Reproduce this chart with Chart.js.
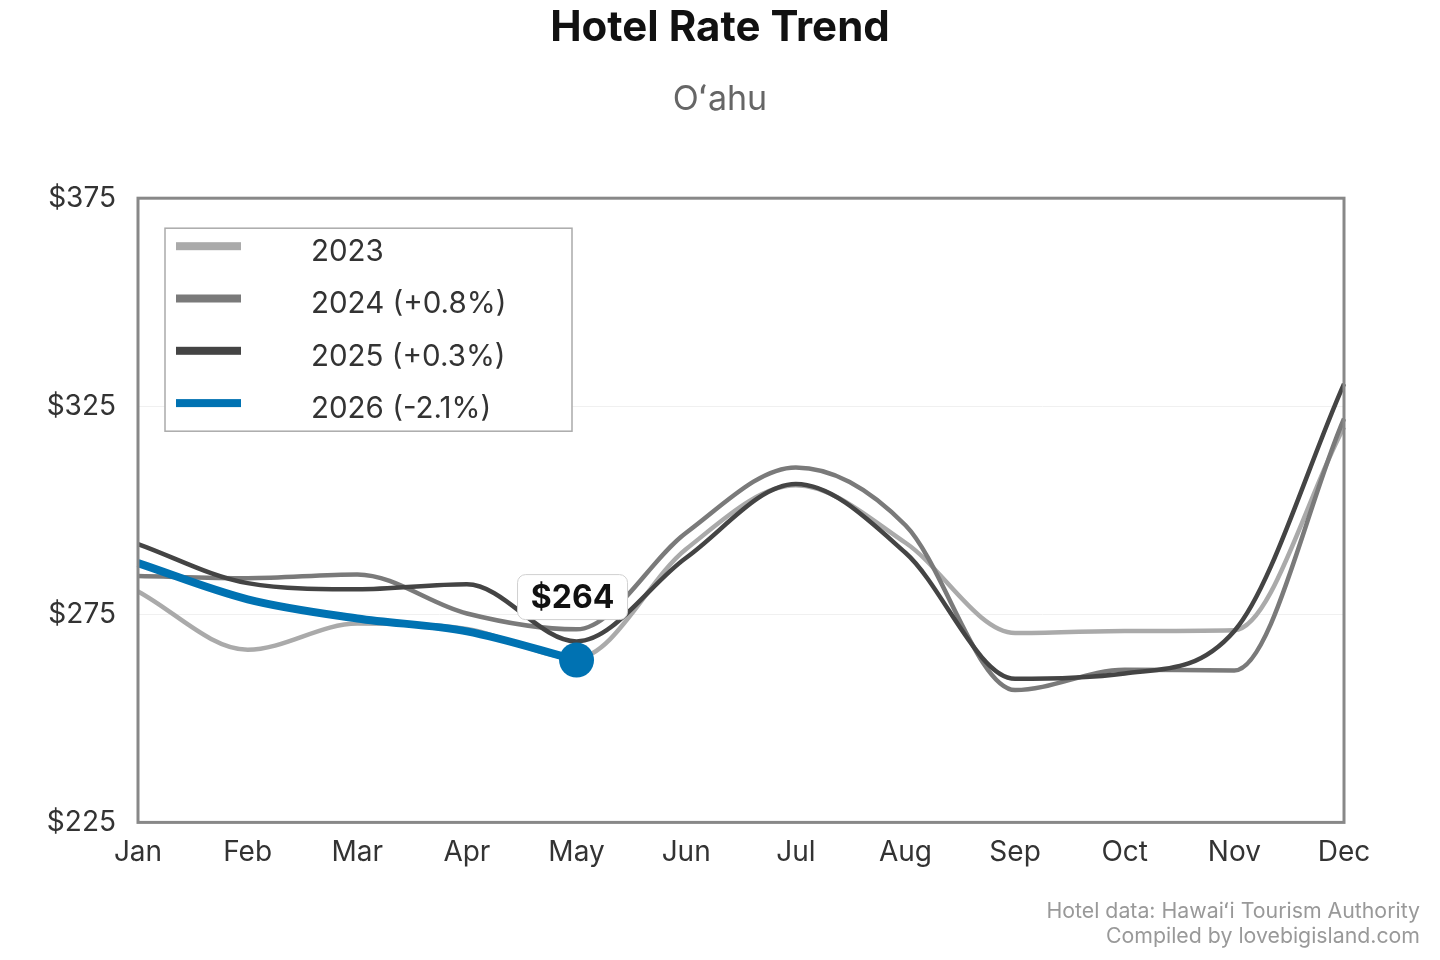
<!DOCTYPE html>
<html>
<head>
<meta charset="utf-8">
<title>Hotel Rate Trend</title>
<script src="https://cdn.jsdelivr.net/npm/chart.js@4.4.1/dist/chart.umd.min.js"></script>
<style>
  html, body { margin: 0; padding: 0; background: #fff; }
  #wrap { width: 1440px; height: 960px; position: relative; }
</style>
</head>
<body>
<div id="wrap"><canvas id="rateChart"></canvas></div>
<script>
// ===== DATA =====
const months = ['Jan', 'Feb', 'Mar', 'Apr', 'May', 'Jun', 'Jul', 'Aug', 'Sep', 'Oct', 'Nov', 'Dec'];
const yTicks = [225, 275, 325, 375];

const rates2023 = [280.5, 266.5, 272.8, 271.5, 264.5, 290.7, 306.0, 292.2, 270.5, 271.0, 271.2, 320.0];
const rates2024 = [284.2, 283.7, 284.6, 275.2, 271.4, 294.6, 310.3, 296.4, 256.8, 261.7, 261.5, 322.0];
const rates2025 = [291.9, 282.5, 281.0, 282.2, 268.5, 288.6, 306.3, 289.8, 259.5, 260.8, 271.0, 330.4];
const rates2026 = [287.3, 278.6, 274.0, 270.9, 264.0];

const seriesLabels = ['2023', '2024 (+0.8%)', '2025 (+0.3%)', '2026 (-2.1%)'];
const seriesColors = ['#aaaaaa', '#7a7a7a', '#444444', '#0072b2'];

const FONT = 'Inter, "Noto Sans", sans-serif';

// ===== PLOT FRAME =====
const frameBorder = {
    id: 'frameBorder',
    afterDatasetsDraw(chart) {
        const { ctx, chartArea: a } = chart;
        ctx.save();
        ctx.strokeStyle = '#888888';
        ctx.lineWidth = 3;
        ctx.strokeRect(a.left, a.top, a.right - a.left, a.bottom - a.top);
        ctx.restore();
    }
};

// ===== LEGEND BOX (inside plot) =====
const insideLegend = {
    id: 'insideLegend',
    afterDraw(chart) {
        const { ctx, chartArea: a } = chart;
        const x0 = a.left + 27, y0 = a.top + 30;
        const w = 407, h = 203;
        ctx.save();
        ctx.fillStyle = '#ffffff';
        ctx.fillRect(x0, y0, w, h);
        ctx.strokeStyle = '#aaaaaa';
        ctx.lineWidth = 1.5;
        ctx.strokeRect(x0, y0, w, h);
        ctx.font = `29.5px ${FONT}`;
        ctx.textBaseline = 'middle';
        seriesLabels.forEach((lbl, i) => {
            const y = y0 + 18 + i * 52.3;
            ctx.fillStyle = seriesColors[i];
            ctx.fillRect(x0 + 11, y - 4, 65, 8);
            ctx.fillStyle = '#333333';
            ctx.fillText(lbl, x0 + 146, y + 6);
        });
        ctx.restore();
    }
};

// ===== LAST VALUE LABEL =====
const lastValueLabel = {
    id: 'lastValueLabel',
    afterDraw(chart) {
        const meta = chart.getDatasetMeta(3);
        const idx = rates2026.length - 1;
        const pt = meta.data[idx];
        if (!pt) return;
        const { ctx } = chart;
        const text = '$' + Math.round(rates2026[idx]);
        const cx = pt.x - 4, cy = pt.y - 63;
        const w = 110, h = 45;
        ctx.save();
        ctx.beginPath();
        ctx.roundRect(cx - w / 2, cy - h / 2, w, h, 8);
        ctx.fillStyle = '#ffffff';
        ctx.fill();
        ctx.strokeStyle = '#d0d0d0';
        ctx.lineWidth = 1;
        ctx.stroke();
        ctx.font = `bold 32px ${FONT}`;
        ctx.fillStyle = '#111111';
        ctx.textAlign = 'center';
        ctx.textBaseline = 'middle';
        ctx.fillText(text, cx, cy + 1);
        ctx.restore();
    }
};

// ===== SOURCE NOTE =====
const sourceNote = {
    id: 'sourceNote',
    afterDraw(chart) {
        const { ctx } = chart;
        ctx.save();
        ctx.font = `21.3px ${FONT}`;
        ctx.fillStyle = '#999999';
        ctx.textAlign = 'right';
        ctx.textBaseline = 'middle';
        ctx.fillText('Hotel data: Hawaiʻi Tourism Authority', 1420, 912);
        ctx.fillText('Compiled by lovebigisland.com', 1420, 937);
        ctx.restore();
    }
};

const makeSet = (i, data, width, order) => ({
    label: seriesLabels[i],
    data: data,
    borderColor: seriesColors[i],
    backgroundColor: seriesColors[i],
    borderWidth: width,
    cubicInterpolationMode: 'monotone',
    pointRadius: 0,
    order: order
});

const set2026 = makeSet(3, rates2026, 8, 0);
set2026.pointRadius = rates2026.map((v, i) => (i === rates2026.length - 1 ? 17.5 : 0));
set2026.pointHoverRadius = set2026.pointRadius;
set2026.pointBackgroundColor = seriesColors[3];
set2026.pointBorderWidth = 0;

new Chart(document.getElementById('rateChart'), {
    type: 'line',
    data: {
        labels: months,
        datasets: [
            makeSet(0, rates2023, 4.5, 3),
            makeSet(1, rates2024, 4.5, 2),
            makeSet(2, rates2025, 4.5, 1),
            set2026
        ]
    },
    options: {
        responsive: true,
        maintainAspectRatio: false,
        animation: false,
        layout: { padding: { left: 0, right: 0, top: 0, bottom: 78 } },
        plugins: {
            legend: { display: false },
            tooltip: { enabled: false },
            title: {
                display: true,
                text: 'Hotel Rate Trend',
                color: '#111111',
                font: { family: FONT, size: 42, weight: 'bold', lineHeight: 1.2 },
                padding: { top: 3, bottom: 26 }
            },
            subtitle: {
                display: true,
                text: 'Oʻahu',
                color: '#666666',
                font: { family: FONT, size: 34, lineHeight: 1.2 },
                padding: { top: 0, bottom: 78 }
            }
        },
        scales: {
            x: {
                offset: false,
                grid: { display: false, drawTicks: false },
                border: { display: false },
                ticks: {
                    color: '#333333',
                    padding: 13,
                    maxRotation: 0,
                    font: { family: FONT, size: 28 }
                }
            },
            y: {
                min: 225,
                max: 375,
                afterBuildTicks: (scale) => { scale.ticks = yTicks.map(v => ({ value: v })); },
                afterFit: (scale) => { scale.width = 138; },
                grid: { color: '#f0f0f0', lineWidth: 1, drawTicks: false },
                border: { display: false },
                ticks: {
                    color: '#333333',
                    padding: 22,
                    font: { family: FONT, size: 28 },
                    callback: (v) => '$' + v
                }
            },
            // empty right margin so the titles centre on the page
            yRight: {
                position: 'right',
                min: 225,
                max: 375,
                afterFit: (scale) => { scale.width = 96; },
                grid: { display: false, drawTicks: false },
                border: { display: false },
                ticks: { display: false }
            }
        }
    },
    plugins: [frameBorder, insideLegend, lastValueLabel, sourceNote]
});
</script>
</body>
</html>
